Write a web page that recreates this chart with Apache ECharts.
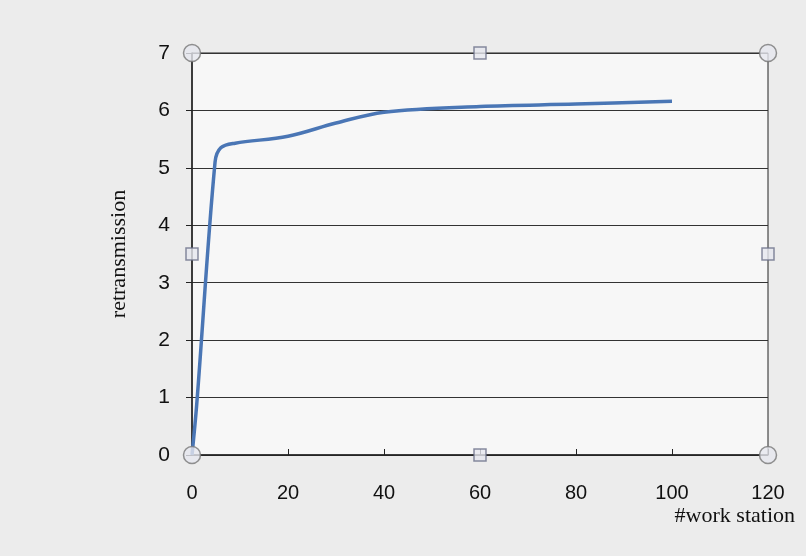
<!DOCTYPE html>
<html>
<head>
<meta charset="utf-8">
<script src="https://cdn.jsdelivr.net/npm/echarts@6/dist/echarts.min.js"></script>
<style>html,body{margin:0;padding:0;background:#ececec;}#c{width:806px;height:556px;}</style>
</head>
<body>
<div id="c"></div>
<script>
// Data
const stations = [0, 1, 4.8, 6, 9, 20, 30, 40, 60, 80, 100];
const retransmission = [0, 0.9, 5.1, 5.35, 5.43, 5.55, 5.78, 5.97, 6.07, 6.11, 6.16];
const xTicks = [0, 20, 40, 60, 80, 100, 120];
const yTicks = [0, 1, 2, 3, 4, 5, 6, 7];
// selection handles of the chart object (corners and mid-points of the plot area)
const handleCircles = [[0, 0], [0, 7], [120, 7], [120, 0]];
const handleSquares = [[60, 7], [60, 0], [0, 3.5], [120, 3.5]];

const chart = echarts.init(document.getElementById('c'));
chart.setOption({
  backgroundColor: '#ececec',
  animation: false,
  grid: {
    left: 192, right: 38, top: 53, bottom: 101,
    show: true, backgroundColor: '#f7f7f7', borderColor: '#222', borderWidth: 1
  },
  xAxis: {
    type: 'value', min: xTicks[0], max: xTicks[xTicks.length - 1], interval: 20,
    name: '#work station', nameLocation: 'end', nameGap: 27,
    nameTextStyle: { fontFamily: 'Liberation Serif', fontSize: 22, color: '#111', align: 'right', verticalAlign: 'top', padding: [50, 0, 0, 0] },
    axisLine: { show: true, lineStyle: { color: '#222', width: 1.5 } },
    axisTick: { show: true, inside: true, length: 6, lineStyle: { color: '#222' } },
    axisLabel: { fontFamily: 'Liberation Sans', fontSize: 20, color: '#111', margin: 28 },
    splitLine: { show: false }
  },
  yAxis: {
    type: 'value', min: yTicks[0], max: yTicks[yTicks.length - 1], interval: 1,
    name: 'retransmission', nameLocation: 'middle', nameGap: 62, nameRotate: 90,
    nameTextStyle: { fontFamily: 'Liberation Serif', fontSize: 22, color: '#111' },
    axisLine: { show: true, lineStyle: { color: '#222', width: 1.5 } },
    axisTick: { show: true, length: 6, lineStyle: { color: '#222' } },
    axisLabel: { fontFamily: 'Liberation Sans', fontSize: 21, color: '#111', margin: 22 },
    splitLine: { show: true, lineStyle: { color: '#333', width: 1 } }
  },
  series: [
    {
      type: 'line',
      data: stations.map((x, i) => [x, retransmission[i]]),
      smooth: 0.35,
      showSymbol: false,
      lineStyle: { color: '#4a76b5', width: 3.5 },
      z: 3
    },
    {
      type: 'scatter', data: handleCircles, symbol: 'circle', symbolSize: 17,
      itemStyle: { color: '#e6e7ef', borderColor: '#777', borderWidth: 1.5 }, z: 5, silent: true
    },
    {
      type: 'scatter', data: handleSquares, symbol: 'rect', symbolSize: 12,
      itemStyle: { color: '#e6e7ef', borderColor: '#6a6f8a', borderWidth: 1.5 }, z: 5, silent: true
    }
  ]
});
</script>
</body>
</html>
